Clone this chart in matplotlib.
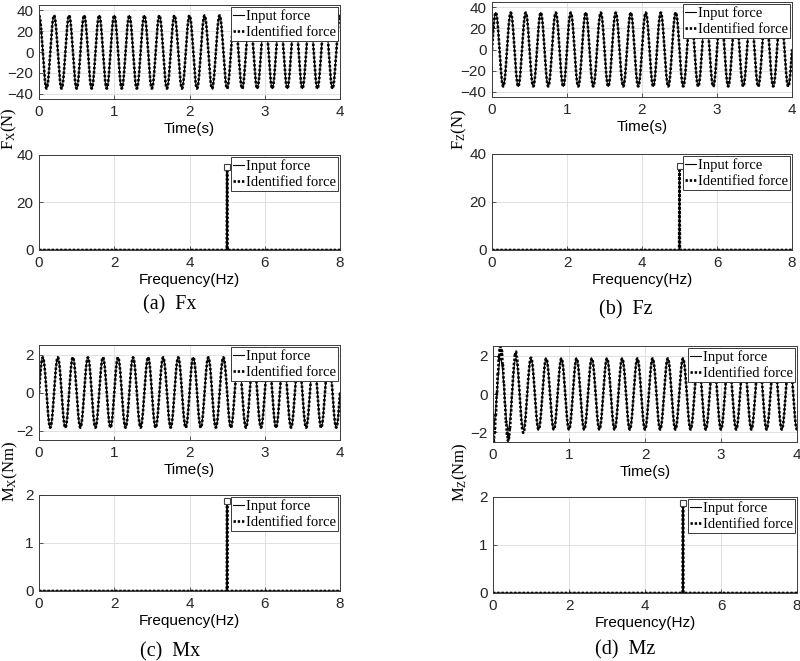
import numpy as np
import matplotlib
matplotlib.use("Agg")
import matplotlib.pyplot as plt

# time-domain signals: 5 Hz sinusoids
t_end = 4.0
sig_freq = 5.0
fx_amp, fx_phase = 35.0, 0.5 * np.pi     # cosine, peak at t=0
fz_amp, fz_phase = 35.0, 0.0             # sine
mx_amp, mx_phase = 1.85, 0.0             # sine
mz_amp, mz_phase = 1.85, -0.5 * np.pi    # minus cosine, trough at t=0

# identified Mz overshoot at the start (extremum every half period)
mz_trans_t = [0.0, 0.1, 0.2, 0.3, 0.4, 0.5, 0.6]
mz_trans_gain = [1.32, 1.30, 1.24, 1.16, 1.08, 1.02, 1.0]
mz_ripple = [0.25, 0.22, 0.15, 0.08, 0.03, 0.0, 0.0]

# spectrum: single line at 5 Hz
spec_f = [0.0, 4.99, 5.0, 5.01, 8.0]
fx_spec = [0.0, 0.0, 35.0, 0.0, 0.0]
fz_spec = [0.0, 0.0, 35.0, 0.0, 0.0]
mx_spec = [0.0, 0.0, 1.88, 0.0, 0.0]
mz_spec = [0.0, 0.0, 1.88, 0.0, 0.0]

time_ticks = [0, 1, 2, 3, 4]
freq_ticks = [0, 2, 4, 6, 8]

W, H = 800, 661
SERIF = "Liberation Serif"
SANS = "Liberation Sans"
plt.rcParams["font.family"] = SANS
plt.rcParams["mathtext.fontset"] = "custom"
plt.rcParams["mathtext.rm"] = SERIF
plt.rcParams["mathtext.it"] = SERIF + ":italic"

fig = plt.figure(figsize=(W / 100, H / 100), dpi=100)

DOTS = (0, (0.9, 0.7))


def box(x0, y0, x1, y1):
    # pixel box (top-left origin) -> figure fraction rect
    return [x0 / W, 1 - y1 / H, (x1 - x0) / W, (y1 - y0) / H]


def style(ax, xlim, xticks, ylim, yticks):
    ax.set_xlim(*xlim)
    ax.set_ylim(*ylim)
    ax.set_xticks(xticks)
    ax.set_yticks(yticks)
    ax.grid(True, color="#dcdcdc", lw=0.6)
    ax.set_axisbelow(True)
    for s in ax.spines.values():
        s.set_color("#3a3a3a")
        s.set_linewidth(0.7)
    ax.tick_params(direction="in", length=3, width=0.6, color="#3a3a3a",
                   labelsize=11, labelcolor="#262626", pad=4)
    ax.legend(loc="upper right", prop={"family": SERIF, "size": 10.5},
              handlelength=0.75, handletextpad=0.1, borderpad=0.15,
              borderaxespad=0.15, labelspacing=0.2, fancybox=False,
              edgecolor="#3a3a3a", framealpha=1)
    ax.get_legend().get_frame().set_linewidth(0.7)


t = np.linspace(0, t_end, 4001)
w = 2 * np.pi * sig_freq

panels = [
    ("a", "Fx", r"F$_\mathrm{X}$(N)", fx_amp, fx_phase, fx_spec,
     (-45, 45), [-40, -20, 0, 20, 40], (0, 40), [0, 20, 40],
     (39, 5, 340, 99), (39, 155, 340, 250), (9, 129), (170, 305)),
    ("b", "Fz", r"F$_\mathrm{Z}$(N)", fz_amp, fz_phase, fz_spec,
     (-45, 45), [-40, -20, 0, 20, 40], (0, 40), [0, 20, 40],
     (492, 2, 792, 97), (492, 154, 792, 250), (459, 129), (626, 310)),
    ("c", "Mx", r"M$_\mathrm{X}$(Nm)", mx_amp, mx_phase, mx_spec,
     (-2.5, 2.5), [-2, 0, 2], (0, 2), [0, 1, 2],
     (39, 345, 340, 440), (39, 495, 340, 591), (10, 471), (170, 652)),
    ("d", "Mz", r"M$_\mathrm{Z}$(Nm)", mz_amp, mz_phase, mz_spec,
     (-2.5, 2.5), [-2, 0, 2], (0, 2), [0, 1, 2],
     (493, 346, 797, 442), (493, 497, 797, 593), (460, 472), (625, 650)),
]

for (tag, name, ylab, amp, ph, spec, tlim, tticks, flim, fticks,
     tbox, fbox, ylpos, cappos) in panels:
    inp = amp * np.sin(w * t + ph)
    ident = inp.copy()
    if tag == "d":
        gain = np.interp(t, mz_trans_t, mz_trans_gain)
        rip = np.interp(t, mz_trans_t, mz_ripple)
        ident = inp * gain + rip * np.sin(2 * np.pi * 70 * t)

    ax = fig.add_axes(box(*tbox))
    ax.plot(t, inp, "-", color="black", lw=0.8, label="Input force")
    ax.plot(t, ident, linestyle=DOTS, color="black", lw=1.9,
            label="Identified force")
    style(ax, (0, t_end), time_ticks, tlim, tticks)
    ax.set_xlabel("Time(s)", fontsize=11, labelpad=2.5)

    ax2 = fig.add_axes(box(*fbox))
    ax2.plot(spec_f, spec, "-", color="black", lw=0.8, label="Input force")
    ax2.plot(spec_f, spec, linestyle=DOTS, color="black", lw=1.9,
             label="Identified force")
    ax2.plot([spec_f[2]], [spec[2]], "s", mfc="white", mec="#404040",
             ms=4, mew=0.8)
    style(ax2, (0, 8), freq_ticks, flim, fticks)
    ax2.set_xlabel("Frequency(Hz)", fontsize=11, labelpad=2.5)

    fig.text(ylpos[0] / W, 1 - ylpos[1] / H, ylab, family=SERIF, fontsize=12,
             rotation=90, ha="center", va="center")
    fig.text(cappos[0] / W, 1 - cappos[1] / H, f"({tag})  {name}",
             family=SERIF, fontsize=14.5, ha="center", va="center")

fig.savefig("out.png", dpi=100)
